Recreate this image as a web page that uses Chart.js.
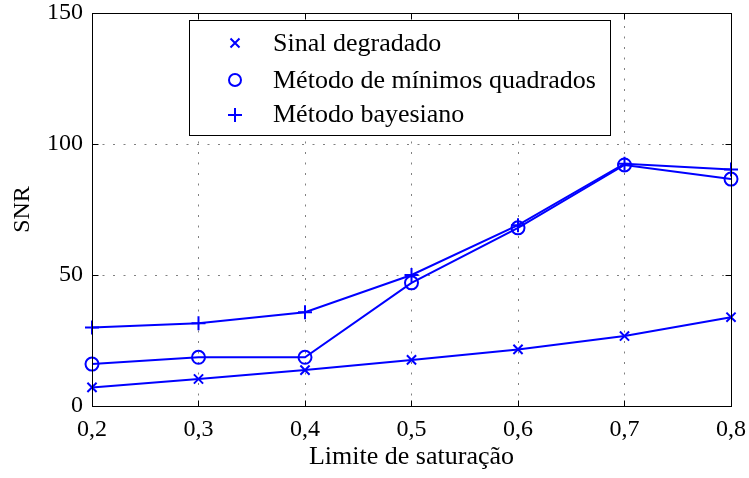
<!DOCTYPE html>
<html>
<head>
<meta charset="utf-8">
<script src="https://cdn.jsdelivr.net/npm/chart.js@4/dist/chart.umd.min.js"></script>
<style>
  html, body { margin: 0; padding: 0; background: #fff; }
  #wrap { width: 749px; height: 478px; }
</style>
</head>
<body>
<div id="wrap"><canvas id="c" width="749" height="478"></canvas></div>
<script>
// Saturation limits (x) and SNR per method
const limites = [0.2, 0.3, 0.4, 0.5, 0.6, 0.7, 0.8];
const sinalDegradado = [7.1, 10.3, 13.7, 17.6, 21.6, 26.7, 33.9];
const minimosQuadrados = [16.0, 18.6, 18.6, 47.0, 68.0, 92.0, 86.6];
const bayesiano = [30.0, 31.6, 35.8, 50.0, 69.0, 92.5, 90.3];
const yTicks = [0, 50, 100, 150];
const xTicks = [0.2, 0.3, 0.4, 0.5, 0.6, 0.7, 0.8];

const FONT = '"Liberation Serif", "Times New Roman", serif';
const BLUE = '#0000ff';

function pts(ys) { return limites.map((x, i) => ({ x: x, y: ys[i] })); }

function serie(label, ys, style, radius) {
  return {
    label: label,
    data: pts(ys),
    borderColor: BLUE,
    backgroundColor: 'rgba(0,0,0,0)',
    borderWidth: 2,
    pointStyle: style,
    pointRadius: radius,
    pointBorderColor: BLUE,
    pointBorderWidth: 2,
    pointBackgroundColor: 'rgba(0,0,0,0)',
    tension: 0,
    fill: false,
    clip: false
  };
}

// Dotted grid behind the data
const gridPlugin = {
  id: 'dottedGrid',
  beforeDatasetsDraw(chart) {
    const { ctx, chartArea: a, scales } = chart;
    ctx.save();
    ctx.strokeStyle = '#808080';
    ctx.lineWidth = 1;
    ctx.setLineDash([2, 8.5]);
    ctx.beginPath();
    xTicks.slice(1, -1).forEach(v => {
      const px = Math.round(scales.x.getPixelForValue(v)) + 0.5;
      ctx.moveTo(px, a.bottom); ctx.lineTo(px, a.top);
    });
    yTicks.slice(1, -1).forEach(v => {
      const py = Math.round(scales.y.getPixelForValue(v)) + 0.5;
      ctx.moveTo(a.left, py); ctx.lineTo(a.right, py);
    });
    ctx.stroke();
    ctx.restore();
  }
};

// Box frame, inward tick marks and the legend panel
const framePlugin = {
  id: 'frame',
  afterDraw(chart) {
    const { ctx, chartArea: a, scales } = chart;
    ctx.save();
    ctx.strokeStyle = '#000';
    ctx.lineWidth = 1;
    const l = Math.round(a.left) + 0.5, t = Math.round(a.top) + 0.5;
    const r = Math.round(a.right) + 0.5, b = Math.round(a.bottom) + 0.5;
    ctx.strokeRect(l, t, r - l, b - t);
    const L = 6;
    ctx.beginPath();
    xTicks.forEach(v => {
      const px = Math.round(scales.x.getPixelForValue(v)) + 0.5;
      ctx.moveTo(px, b); ctx.lineTo(px, b - L);
      ctx.moveTo(px, t); ctx.lineTo(px, t + L);
    });
    yTicks.forEach(v => {
      const py = Math.round(scales.y.getPixelForValue(v)) + 0.5;
      ctx.moveTo(l, py); ctx.lineTo(l + L, py);
      ctx.moveTo(r, py); ctx.lineTo(r - L, py);
    });
    ctx.stroke();

    // legend
    const bx = 189.5, by = 20.5, bw = 421, bh = 115;
    ctx.fillStyle = '#fff';
    ctx.fillRect(bx, by, bw, bh);
    ctx.strokeRect(bx, by, bw, bh);
    const markY = [43, 80, 115];
    const baseY = [51, 88, 122];
    ctx.font = '26px ' + FONT;
    ctx.textBaseline = 'alphabetic';
    ctx.textAlign = 'left';
    chart.data.datasets.forEach((ds, i) => {
      const y = markY[i], x = 235;
      ctx.strokeStyle = BLUE;
      ctx.lineWidth = 2;
      ctx.beginPath();
      if (ds.pointStyle === 'crossRot') {
        const s = 4.5;
        ctx.moveTo(x - s, y - s); ctx.lineTo(x + s, y + s);
        ctx.moveTo(x - s, y + s); ctx.lineTo(x + s, y - s);
      } else if (ds.pointStyle === 'circle') {
        ctx.arc(x, y, 6, 0, Math.PI * 2);
      } else {
        const s = 7;
        ctx.moveTo(x - s, y); ctx.lineTo(x + s, y);
        ctx.moveTo(x, y - s); ctx.lineTo(x, y + s);
      }
      ctx.stroke();
      ctx.fillStyle = '#000';
      ctx.fillText(ds.label, 273, baseY[i]);
    });
    ctx.restore();
  }
};

new Chart(document.getElementById('c'), {
  type: 'line',
  data: {
    datasets: [
      serie('Sinal degradado', sinalDegradado, 'crossRot', 6.5),
      serie('Método de mínimos quadrados', minimosQuadrados, 'circle', 6.5),
      serie('Método bayesiano', bayesiano, 'cross', 7)
    ]
  },
  options: {
    responsive: false,
    animation: false,
    events: [],
    layout: { padding: { left: 0, right: 18, top: 13, bottom: 5 } },
    plugins: { legend: { display: false }, tooltip: { enabled: false } },
    scales: {
      x: {
        type: 'linear',
        min: 0.2, max: 0.8,
        afterBuildTicks(scale) { scale.ticks = xTicks.map(v => ({ value: v })); },
        afterFit(scale) {
          scale.height = 67;
          scale.paddingLeft = 0;
          scale.paddingRight = 0;
        },
        border: { display: false },
        grid: { display: false, drawTicks: false },
        ticks: {
          color: '#000',
          padding: 9,
          maxRotation: 0,
          font: { family: FONT, size: 24 },
          callback: v => Number(v).toFixed(1).replace('.', ',')
        },
        title: {
          display: true,
          text: 'Limite de saturação',
          color: '#000',
          font: { family: FONT, size: 26 },
          padding: { top: 0, bottom: 0 }
        }
      },
      y: {
        min: 0, max: 150,
        afterBuildTicks(scale) { scale.ticks = yTicks.map(v => ({ value: v })); },
        afterFit(scale) {
          scale.width = 92;
          scale.paddingTop = 0;
          scale.paddingBottom = 0;
        },
        border: { display: false },
        grid: { display: false, drawTicks: false },
        ticks: {
          color: '#000',
          padding: 9,
          font: { family: FONT, size: 24 },
          callback: v => String(v)
        },
        title: {
          display: true,
          text: 'SNR',
          color: '#000',
          font: { family: FONT, size: 24 },
          padding: { top: 8, bottom: 0 }
        }
      }
    }
  },
  plugins: [gridPlugin, framePlugin]
});
</script>
</body>
</html>
